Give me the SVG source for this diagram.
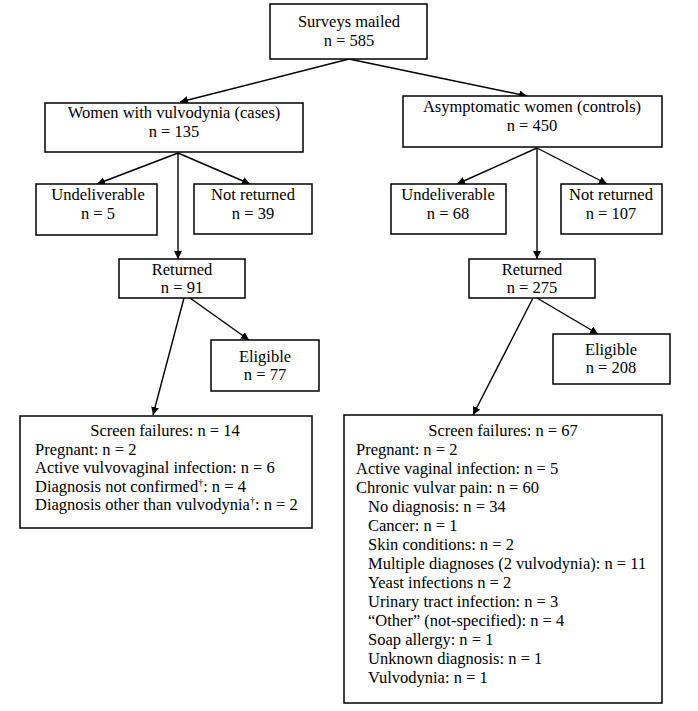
<svg xmlns="http://www.w3.org/2000/svg" width="698" height="711" viewBox="0 0 698 711" font-family="'Liberation Serif', 'Times New Roman', 'DejaVu Serif', serif" font-size="16.5">
<defs>
<style>
.box{fill:#fff;stroke:#000;stroke-width:1.5}
text{font-family:'Liberation Serif','Times New Roman','DejaVu Serif',serif;font-size:16.5px;fill:#000}
.c{text-anchor:middle}
.ln{stroke:#000;stroke-width:1.4;fill:none;marker-end:url(#ah)}
</style>
<marker id="ah" viewBox="0 0 10 10" refX="10" refY="5" markerWidth="8" markerHeight="8" markerUnits="userSpaceOnUse" orient="auto">
<path d="M0,0 L10,5 L0,10 z" fill="#000"/>
</marker>
</defs>
<rect width="698" height="711" fill="#fff"/>
<g id="connectors">
<line class="ln" x1="349" y1="59" x2="180" y2="102"/>
<line class="ln" x1="349" y1="59" x2="527" y2="96"/>
<line class="ln" x1="178" y1="153" x2="97" y2="184"/>
<line class="ln" x1="178" y1="153" x2="250" y2="184"/>
<line class="ln" x1="178" y1="153" x2="178" y2="259"/>
<line class="ln" x1="190" y1="298" x2="249" y2="340"/>
<line class="ln" x1="184" y1="298" x2="153" y2="415"/>
<line class="ln" x1="537" y1="148" x2="457" y2="184"/>
<line class="ln" x1="537" y1="148" x2="607" y2="184"/>
<line class="ln" x1="537" y1="148" x2="537" y2="259"/>
<line class="ln" x1="537" y1="298" x2="598" y2="334"/>
<line class="ln" x1="533" y1="298" x2="473" y2="415"/>
</g>
<g id="surveys">
<rect class="box" x="270" y="4" width="157" height="55"/>
<text class="c" x="349" y="27">Surveys mailed</text>
<text class="c" x="349" y="46">n = 585</text>
</g>
<g id="cases">
<rect class="box" x="45" y="103" width="258" height="49"/>
<text class="c" x="174" y="118">Women with vulvodynia (cases)</text>
<text class="c" x="174" y="137">n = 135</text>
</g>
<g id="controls">
<rect class="box" x="403" y="96" width="259" height="51"/>
<text class="c" x="532" y="112">Asymptomatic women (controls)</text>
<text class="c" x="532" y="131">n = 450</text>
</g>
<g id="undeliv-cases">
<rect class="box" x="36" y="184" width="121" height="51"/>
<text class="c" x="98" y="200">Undeliverable</text>
<text class="c" x="98" y="219">n = 5</text>
</g>
<g id="notret-cases">
<rect class="box" x="194" y="184" width="118" height="50"/>
<text class="c" x="253" y="200">Not returned</text>
<text class="c" x="253" y="219">n = 39</text>
</g>
<g id="undeliv-controls">
<rect class="box" x="391" y="184" width="115" height="50"/>
<text class="c" x="448" y="200">Undeliverable</text>
<text class="c" x="448" y="219">n = 68</text>
</g>
<g id="notret-controls">
<rect class="box" x="561" y="184" width="101" height="50"/>
<text class="c" x="611" y="200">Not returned</text>
<text class="c" x="611" y="219">n = 107</text>
</g>
<g id="returned-cases">
<rect class="box" x="119" y="259" width="126" height="39"/>
<text class="c" x="182" y="275">Returned</text>
<text class="c" x="182" y="293">n = 91</text>
</g>
<g id="returned-controls">
<rect class="box" x="469" y="259" width="126" height="39"/>
<text class="c" x="532" y="275">Returned</text>
<text class="c" x="532" y="293">n = 275</text>
</g>
<g id="eligible-cases">
<rect class="box" x="211" y="340" width="108" height="51"/>
<text class="c" x="265" y="362">Eligible</text>
<text class="c" x="265" y="380">n = 77</text>
</g>
<g id="eligible-controls">
<rect class="box" x="553" y="334" width="117" height="50"/>
<text class="c" x="611" y="355">Eligible</text>
<text class="c" x="611" y="373">n = 208</text>
</g>
<g id="screen-cases">
<rect class="box" x="20" y="416" width="292" height="112"/>
<text class="c" x="165" y="436">Screen failures: n = 14</text>
<text x="35" y="455">Pregnant: n = 2</text>
<text x="35" y="473">Active vulvovaginal infection: n = 6</text>
<text x="35" y="492">Diagnosis not confirmed<tspan font-size="10" dy="-6">†</tspan><tspan dy="6">: n = 4</tspan></text>
<text x="35" y="510">Diagnosis other than vulvodynia<tspan font-size="10" dy="-6">†</tspan><tspan dy="6">: n = 2</tspan></text>
</g>
<g id="screen-controls">
<rect class="box" x="344" y="415" width="318" height="288"/>
<text class="c" x="503" y="436">Screen failures: n = 67</text>
<text x="356" y="455">Pregnant: n = 2</text>
<text x="356" y="474">Active vaginal infection: n = 5</text>
<text x="356" y="493">Chronic vulvar pain: n = 60</text>
<text x="368" y="512">No diagnosis: n = 34</text>
<text x="368" y="531">Cancer: n = 1</text>
<text x="368" y="550">Skin conditions: n = 2</text>
<text x="368" y="569">Multiple diagnoses (2 vulvodynia): n = 11</text>
<text x="368" y="588">Yeast infections n = 2</text>
<text x="368" y="607">Urinary tract infection: n = 3</text>
<text x="368" y="626">“Other” (not-specified): n = 4</text>
<text x="368" y="645">Soap allergy: n = 1</text>
<text x="368" y="664">Unknown diagnosis: n = 1</text>
<text x="368" y="683">Vulvodynia: n = 1</text>
</g>
</svg>
